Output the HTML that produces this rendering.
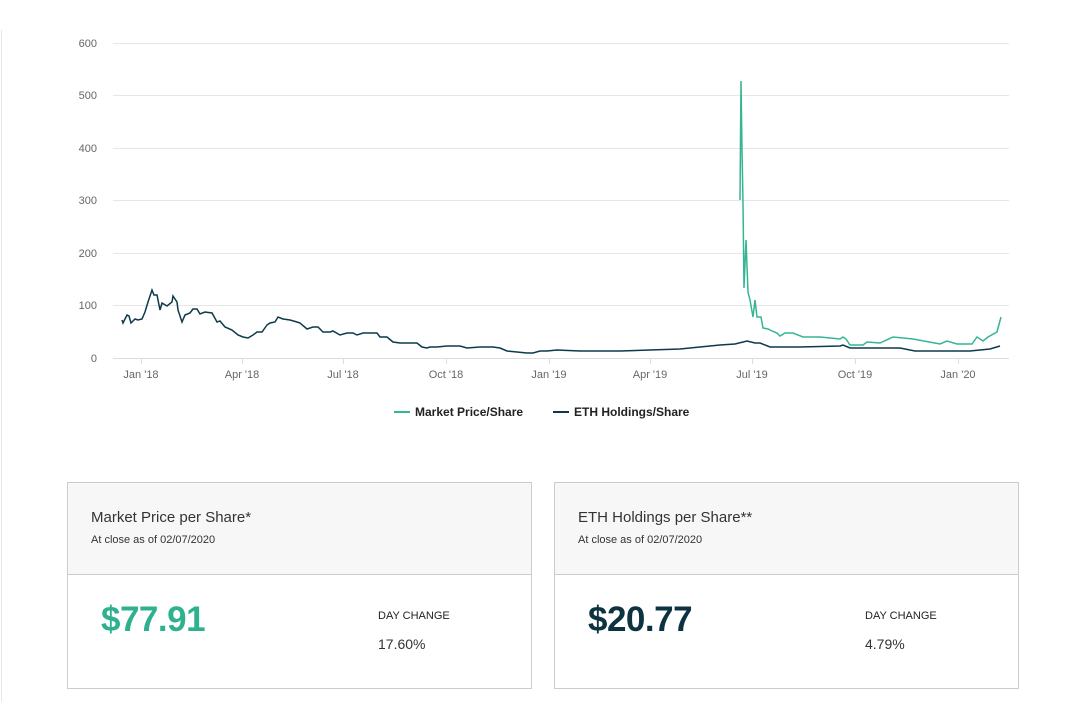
<!DOCTYPE html>
<html><head><meta charset="utf-8"><style>
body{margin:0;width:1079px;height:702px;background:#fff;font-family:"Liberation Sans",sans-serif;position:relative;overflow:hidden}
.vl{position:absolute;left:1px;top:30px;width:1px;height:672px;background:#e6e6e6}
.card{position:absolute;top:482px;width:463px;height:205px;border:1px solid #ccc}
.hd{height:91px;background:#f7f7f7;border-bottom:1px solid #ccc;position:relative}
.t{position:absolute;left:23px;top:26px;font-size:15px;color:#333}
.s{position:absolute;left:23px;top:51px;font-size:11px;color:#333}
.big{position:absolute;left:33px;top:117px;font-size:35px;font-weight:bold;letter-spacing:-0.5px}
.dc{position:absolute;left:310px;top:127px;font-size:11px;color:#222}
.pc{position:absolute;left:310px;top:153px;font-size:14px;color:#333}
</style></head><body>
<div class="vl"></div>
<svg width="1079" height="440" style="position:absolute;left:0;top:0" font-family="Liberation Sans, sans-serif">
<g stroke="#e6e6e6" stroke-width="1">
<line x1="113" x2="1009" y1="43.5" y2="43.5"/><line x1="113" x2="1009" y1="95.5" y2="95.5"/><line x1="113" x2="1009" y1="148.5" y2="148.5"/><line x1="113" x2="1009" y1="200.5" y2="200.5"/><line x1="113" x2="1009" y1="253.5" y2="253.5"/><line x1="113" x2="1009" y1="305.5" y2="305.5"/>
<line x1="113" x2="1009" y1="358.5" y2="358.5" stroke="#ddd"/>
<g stroke="#ddd"><line x1="141.5" x2="141.5" y1="358" y2="364"/><line x1="242.5" x2="242.5" y1="358" y2="364"/><line x1="343.5" x2="343.5" y1="358" y2="364"/><line x1="446.5" x2="446.5" y1="358" y2="364"/><line x1="549.5" x2="549.5" y1="358" y2="364"/><line x1="650.5" x2="650.5" y1="358" y2="364"/><line x1="752.5" x2="752.5" y1="358" y2="364"/><line x1="855.5" x2="855.5" y1="358" y2="364"/><line x1="958.5" x2="958.5" y1="358" y2="364"/></g>
</g>
<g font-size="11" fill="#666" text-anchor="end">
<text x="97" y="47">600</text><text x="97" y="99">500</text><text x="97" y="152">400</text><text x="97" y="204">300</text><text x="97" y="257">200</text><text x="97" y="309">100</text><text x="97" y="362">0</text>
</g>
<g font-size="11" fill="#666" text-anchor="middle">
<text x="141" y="378">Jan '18</text><text x="242" y="378">Apr '18</text><text x="343" y="378">Jul '18</text><text x="446" y="378">Oct '18</text><text x="549" y="378">Jan '19</text><text x="650" y="378">Apr '19</text><text x="752" y="378">Jul '19</text><text x="855" y="378">Oct '19</text><text x="958" y="378">Jan '20</text>
</g>
<polyline fill="none" stroke="#35b594" stroke-width="1.5" points="740,200 741,81 742,150 743,203 744,288 746,240 748,292 750,300 753,317 755,300 757,317 761,317 763,328 768,329 772,331 777,333 780,336 785,333 793,333 803,337 820,337 840,339 843,337 846,339 850,345 863,345 867,342 880,343 893,337 913,339 940,344 947,341 957,344 972,344 977,337 983,341 988,337 997,332 1001,317"/>
<polyline fill="none" stroke="#0d3a4a" stroke-width="1.5" points="122,320 123,323 127,315 129,316 131,323 135,319 138,320 142,319 145,312 148,302 152,290 154,295 157,295 160,310 162,303 167,306 172,302 173,296 177,302 178,310 182,322 185,315 190,313 193,309 197,309 200,314 205,312 212,313 217,322 220,321 225,327 232,330 238,335 243,337 248,338 253,335 257,332 262,332 267,325 270,323 275,322 278,317 283,319 290,320 297,322 300,323 307,329 313,327 318,327 323,332 330,332 333,331 340,335 347,333 353,333 357,335 363,333 370,333 377,333 380,337 387,337 393,342 400,343 410,343 417,343 422,347 427,348 430,347 437,347 447,346 460,346 467,348 480,347 493,347 500,348 507,351 517,352 527,353 533,353 540,351 547,351 557,350 580,351 620,351 650,350 680,349 700,347 720,345 735,344 747,341 755,343 760,343 770,347 800,347 840,346 843,345 850,348 900,348 915,351 970,351 990,349 1000,346"/>
<line x1="394" x2="410" y1="412" y2="412" stroke="#35b594" stroke-width="2"/>
<text x="415" y="416" font-size="12" font-weight="bold" fill="#222">Market Price/Share</text>
<line x1="553" x2="569" y1="412" y2="412" stroke="#0d3a4a" stroke-width="2"/>
<text x="574" y="416" font-size="12" font-weight="bold" fill="#222">ETH Holdings/Share</text>
</svg>
<div class="card" style="left:67px"><div class="hd"><div class="t">Market Price per Share*</div><div class="s">At close as of 02/07/2020</div></div>
<div class="big" style="color:#2fb08f">$77.91</div><div class="dc">DAY CHANGE</div><div class="pc">17.60%</div></div>
<div class="card" style="left:554px"><div class="hd"><div class="t">ETH Holdings per Share**</div><div class="s">At close as of 02/07/2020</div></div>
<div class="big" style="color:#0d3340">$20.77</div><div class="dc">DAY CHANGE</div><div class="pc">4.79%</div></div>
</body></html>
